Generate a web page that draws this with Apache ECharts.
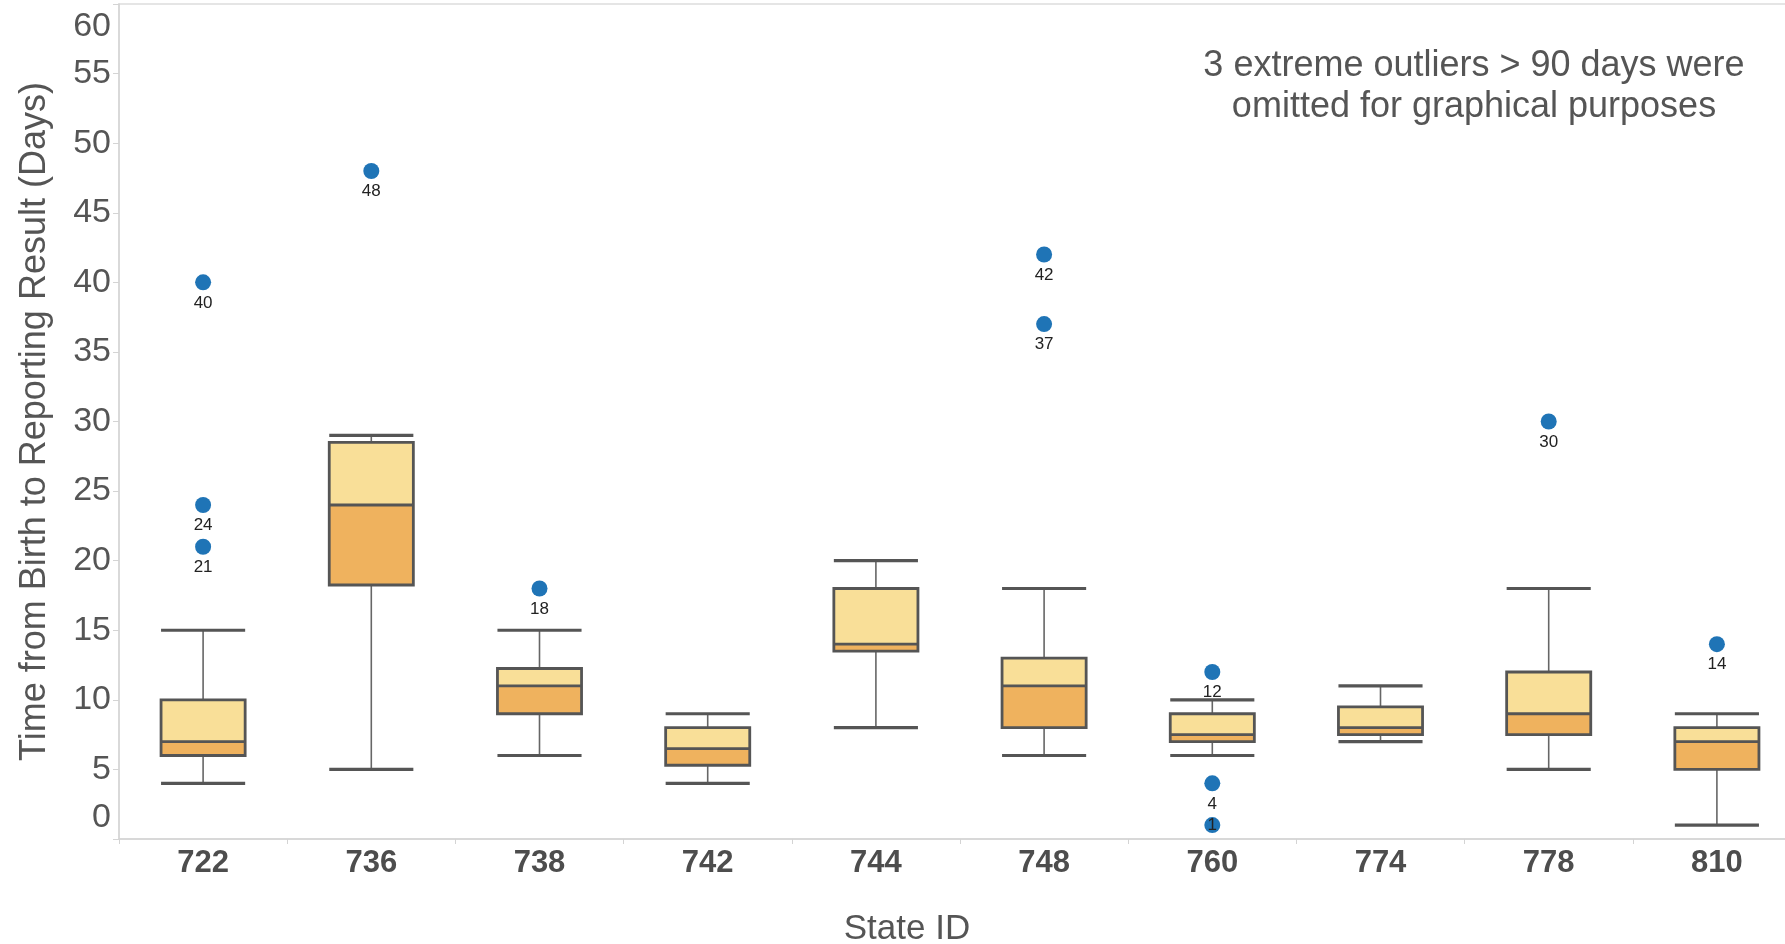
<!DOCTYPE html>
<html>
<head>
<meta charset="utf-8">
<script src="https://cdn.jsdelivr.net/npm/echarts@6/dist/echarts.min.js"></script>
<style>
  html, body { margin: 0; padding: 0; background: #ffffff; overflow: hidden; }
  #chart { width: 1801px; height: 944px; }
</style>
</head>
<body>
<div id="chart"></div>
<script>
// ---- Data ----
const states      = ['722', '736', '738', '742', '744', '748', '760', '774', '778', '810'];
const whiskerLow  = [4,   5,     6,     4,   8,    6,  6,   7,   5,   1];
const q1          = [6,   18.25, 9,     5.3, 13.5, 8,  7,   7.5, 7.5, 5];
const median      = [7,   24,    11,    6.5, 14,   11, 7.5, 8,   9,   7];
const q3          = [10,  28.5,  12.25, 8,   18,   13, 9,   9.5, 12,  8];
const whiskerHigh = [15,  29,    15,    9,   20,   18, 10,  11,  18,  9];
const outliers    = [[40, 24, 21], [48], [18], [], [], [42, 37], [12, 4, 1], [], [30], [14]];
const yTicks = { min: 0, max: 60, interval: 5 };
const yTitle = 'Time from Birth to Reporting Result (Days)';
const xTitle = 'State ID';
const note = '3 extreme outliers > 90 days were\nomitted for graphical purposes';

// ---- Build series data ----
const boxData = states.map((s, i) => [i, whiskerLow[i], q1[i], median[i], q3[i], whiskerHigh[i]]);
const outlierData = [];
outliers.forEach((arr, i) => arr.forEach(v => {
  const item = { value: [i, v] };
  if (v < 2) item.label = { position: 'inside', distance: 0 };
  outlierData.push(item);
}));

const FONT = '"Liberation Sans", Arial, Helvetica, sans-serif';

function renderBox(params, api) {
  const i = api.value(0);
  const lo = api.coord([i, api.value(1)]);
  const p1 = api.coord([i, api.value(2)]);
  const pm = api.coord([i, api.value(3)]);
  const p3 = api.coord([i, api.value(4)]);
  const hi = api.coord([i, api.value(5)]);
  const band = api.size([1, 0])[0];
  const w = band * 0.5;
  const x = lo[0];
  const left = x - w / 2;
  const stem = { stroke: '#666666', lineWidth: 1.6 };
  const cap = { stroke: '#555555', lineWidth: 3.2 };
  return {
    type: 'group',
    children: [
      { type: 'line', shape: { x1: x, y1: lo[1], x2: x, y2: p1[1] }, style: stem },
      { type: 'line', shape: { x1: x, y1: p3[1], x2: x, y2: hi[1] }, style: stem },
      { type: 'line', shape: { x1: left, y1: lo[1], x2: left + w, y2: lo[1] }, style: cap },
      { type: 'line', shape: { x1: left, y1: hi[1], x2: left + w, y2: hi[1] }, style: cap },
      { type: 'rect', shape: { x: left, y: pm[1], width: w, height: p1[1] - pm[1] }, style: { fill: '#efb25e' } },
      { type: 'rect', shape: { x: left, y: p3[1], width: w, height: pm[1] - p3[1] }, style: { fill: '#f9df98' } },
      { type: 'rect', shape: { x: left, y: p3[1], width: w, height: p1[1] - p3[1] },
        style: { fill: 'none', stroke: '#555555', lineWidth: 2.8 } },
      { type: 'line', shape: { x1: left, y1: pm[1], x2: left + w, y2: pm[1] },
        style: { stroke: '#555555', lineWidth: 2.8 } }
    ]
  };
}

const chart = echarts.init(document.getElementById('chart'), null, { renderer: 'canvas' });
chart.setOption({
  backgroundColor: '#ffffff',
  animation: false,
  textStyle: { fontFamily: FONT },
  grid: {
    left: 119, top: 4, right: 0, bottom: 105,
    show: true, borderColor: '#dddddd', borderWidth: 1.5, backgroundColor: 'transparent'
  },
  xAxis: {
    type: 'category',
    data: states,
    axisLine: { lineStyle: { color: '#d4d4d4', width: 1.5 } },
    axisTick: { show: true, length: 5, lineStyle: { color: '#d4d4d4' } },
    axisLabel: { fontSize: 31, fontWeight: 'bold', color: '#4d4d4d', margin: 9, fontFamily: FONT },
    splitLine: { show: false }
  },
  yAxis: {
    type: 'value',
    min: yTicks.min, max: yTicks.max, interval: yTicks.interval,
    name: yTitle,
    nameLocation: 'middle',
    nameGap: 66,
    nameTextStyle: { fontSize: 36, color: '#555555', fontFamily: FONT },
    axisLine: { show: true, lineStyle: { color: '#d4d4d4', width: 1.5 } },
    axisTick: { show: true, length: 6, lineStyle: { color: '#d4d4d4' } },
    axisLabel: {
      fontSize: 34, color: '#555555', margin: 8, fontFamily: FONT,
      verticalAlignMinLabel: 'bottom', verticalAlignMaxLabel: 'top',
      formatter: v => v === yTicks.max ? '{t|' + v + '}' : (v === yTicks.min ? '{b|' + v + '}' : String(v)),
      rich: {
        t: { fontSize: 34, color: '#555555', fontFamily: FONT, padding: [6, 0, 0, 0] },
        b: { fontSize: 34, color: '#555555', fontFamily: FONT, padding: [0, 0, 4, 0] }
      }
    },
    splitLine: { show: false }
  },
  graphic: [
    {
      type: 'text', x: 907, y: 929,
      style: { text: xTitle, fontSize: 35, fill: '#555555', fontFamily: FONT, align: 'center', verticalAlign: 'middle' }
    },
    {
      type: 'text', x: 1474, y: 87,
      style: {
        text: note, fontSize: 36, lineHeight: 41, fill: '#555555', fontFamily: FONT,
        align: 'center', verticalAlign: 'middle'
      }
    }
  ],
  series: [
    {
      type: 'custom',
      renderItem: renderBox,
      data: boxData,
      encode: { x: 0, y: [1, 2, 3, 4, 5] },
      z: 2
    },
    {
      type: 'scatter',
      data: outlierData,
      symbolSize: 16,
      itemStyle: { color: '#1f74b6', opacity: 1 },
      label: {
        show: true, position: 'bottom', distance: 4,
        fontSize: 17, color: '#222222', fontFamily: FONT,
        formatter: p => p.value[1]
      },
      z: 3
    }
  ]
});
</script>
</body>
</html>
